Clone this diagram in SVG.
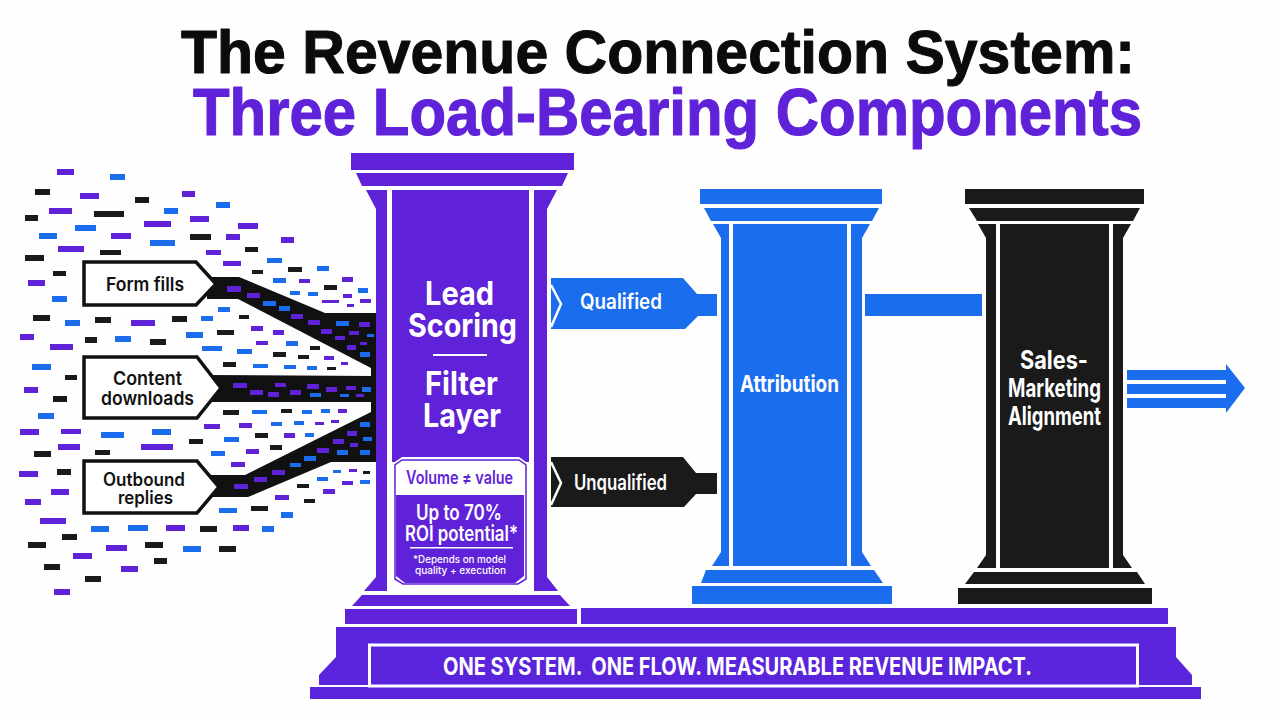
<svg xmlns="http://www.w3.org/2000/svg" width="1280" height="720" viewBox="0 0 1280 720">
<style>
text{font-family:Inter,"Liberation Sans",sans-serif;font-weight:700;fill:#fff}
.p{fill:#5f22d9}.b{fill:#1a6dec}.k{fill:#1a1a1a}
.w{fill:#fff}
.lab{fill:#111;font-weight:600}
.src{fill:#fff;stroke:#111;stroke-width:3.5}
.ch{fill:none;stroke:#fff;stroke-width:2.5}
.ttl{font-family:"Liberation Sans",Arial,sans-serif;stroke-width:1.1;stroke-linejoin:round}
</style>
<rect width="1280" height="720" fill="#fefefe"/>
<g id="title">
<text class="ttl" x="181" y="73" font-size="62" style="fill:#0b0b0b;stroke:#0b0b0b" textLength="954" lengthAdjust="spacingAndGlyphs">The Revenue Connection System:</text>
<text class="ttl" x="193" y="135" font-size="66" style="fill:#5f22d9;stroke:#5f22d9" textLength="949" lengthAdjust="spacingAndGlyphs">Three Load-Bearing Components</text>
</g>
<g id="particles">
<rect class="p" x="57" y="169" width="17" height="6"/><rect class="b" x="110" y="174" width="15" height="6"/><rect class="k" x="35" y="189" width="15" height="6"/><rect class="p" x="80" y="193" width="19" height="6"/><rect class="p" x="182" y="191" width="13" height="6"/><rect class="k" x="135" y="197" width="14" height="6"/><rect class="b" x="216" y="202" width="14" height="6"/><rect class="p" x="49" y="208" width="23" height="6"/><rect class="k" x="94" y="211" width="30" height="6"/><rect class="b" x="164" y="208" width="14" height="6"/><rect class="k" x="25" y="215" width="13" height="6"/><rect class="p" x="190" y="216" width="19" height="6"/><rect class="p" x="144" y="221" width="27" height="6"/><rect class="b" x="75" y="225" width="21" height="6"/><rect class="p" x="238" y="223" width="20" height="6"/><rect class="b" x="39" y="233" width="18" height="6"/><rect class="p" x="111" y="233" width="20" height="6"/><rect class="k" x="190" y="234" width="21" height="6"/><rect class="p" x="226" y="234" width="14" height="6"/><rect class="p" x="281" y="237" width="13" height="6"/><rect class="b" x="150" y="240" width="25" height="6"/><rect class="p" x="58" y="246" width="26" height="6"/><rect class="k" x="245" y="247" width="13" height="5"/><rect class="k" x="100" y="250" width="21" height="5"/><rect class="p" x="206" y="250" width="15" height="5"/><rect class="k" x="25" y="255" width="19" height="6"/><rect class="b" x="267" y="258" width="15" height="5"/><rect class="p" x="223" y="261" width="18" height="5"/><rect class="b" x="317" y="266" width="12" height="5"/><rect class="k" x="288" y="267" width="14" height="5"/><rect class="k" x="252" y="270" width="11" height="4"/><rect class="k" x="53" y="271" width="13" height="5"/><rect class="p" x="28" y="280" width="17" height="6"/><rect class="b" x="273" y="278" width="13" height="5"/><rect class="p" x="299" y="279" width="11" height="4"/><rect class="p" x="342" y="277" width="11" height="5"/><rect class="b" x="358" y="288" width="10" height="5"/><rect class="k" x="324" y="285" width="13" height="5"/><rect class="b" x="290" y="291" width="10" height="4"/><rect class="b" x="308" y="292" width="10" height="4"/><rect class="p" x="343" y="294" width="9" height="4"/><rect class="p" x="322" y="300" width="17" height="3"/><rect class="p" x="360" y="299" width="11" height="4"/><rect class="p" x="347" y="304" width="7" height="3"/><rect class="b" x="52" y="296" width="15" height="6"/><rect class="b" x="218" y="307" width="12" height="5"/><rect class="k" x="239" y="315" width="10" height="4"/><rect class="k" x="33" y="315" width="17" height="6"/><rect class="k" x="95" y="317" width="16" height="6"/><rect class="b" x="65" y="320" width="15" height="6"/><rect class="p" x="131" y="320" width="24" height="6"/><rect class="k" x="172" y="316" width="15" height="6"/><rect class="b" x="201" y="316" width="12" height="5"/><rect class="p" x="251" y="326" width="12" height="5"/><rect class="p" x="273" y="330" width="11" height="5"/><rect class="k" x="217" y="330" width="17" height="5"/><rect class="b" x="186" y="332" width="17" height="6"/><rect class="p" x="20" y="334" width="14" height="6"/><rect class="k" x="85" y="337" width="12" height="6"/><rect class="b" x="115" y="336" width="16" height="6"/><rect class="k" x="150" y="339" width="16" height="6"/><rect class="p" x="50" y="344" width="23" height="6"/><rect class="p" x="256" y="341" width="12" height="4"/><rect class="b" x="286" y="341" width="12" height="5"/><rect class="b" x="202" y="346" width="20" height="5"/><rect class="b" x="237" y="349" width="15" height="5"/><rect class="k" x="310" y="346" width="10" height="4"/><rect class="k" x="273" y="352" width="13" height="5"/><rect class="k" x="298" y="355" width="11" height="4"/><rect class="p" x="324" y="356" width="10" height="4"/><rect class="p" x="341" y="362" width="7" height="3"/><rect class="k" x="223" y="362" width="13" height="5"/><rect class="b" x="253" y="364" width="15" height="4"/><rect class="b" x="284" y="365" width="12" height="4"/><rect class="b" x="307" y="366" width="10" height="4"/><rect class="k" x="327" y="367" width="9" height="3"/><rect class="b" x="32" y="364" width="19" height="6"/>
<rect class="k" x="65" y="375" width="12" height="5"/><rect class="p" x="24" y="387" width="14" height="6"/><rect class="k" x="53" y="396" width="14" height="6"/><rect class="b" x="38" y="413" width="16" height="6"/><rect class="p" x="20" y="429" width="19" height="6"/><rect class="p" x="61" y="429" width="20" height="5"/><rect class="b" x="101" y="432" width="23" height="6"/><rect class="b" x="152" y="429" width="19" height="6"/><rect class="p" x="204" y="424" width="16" height="5"/><rect class="p" x="239" y="423" width="13" height="5"/><rect class="b" x="271" y="422" width="11" height="4"/><rect class="b" x="294" y="421" width="10" height="4"/><rect class="p" x="315" y="422" width="9" height="3"/><rect class="p" x="331" y="420" width="8" height="3"/><rect class="k" x="223" y="410" width="16" height="5"/><rect class="b" x="252" y="410" width="15" height="4"/><rect class="k" x="281" y="409" width="11" height="4"/><rect class="b" x="302" y="410" width="10" height="4"/><rect class="b" x="321" y="409" width="9" height="4"/><rect class="p" x="338" y="409" width="9" height="4"/><rect class="k" x="189" y="439" width="14" height="5"/><rect class="b" x="224" y="437" width="15" height="5"/><rect class="k" x="255" y="433" width="13" height="5"/><rect class="p" x="284" y="433" width="11" height="5"/><rect class="b" x="305" y="433" width="9" height="4"/><rect class="p" x="58" y="444" width="22" height="6"/><rect class="k" x="95" y="450" width="15" height="5"/><rect class="p" x="141" y="444" width="32" height="6"/><rect class="b" x="211" y="451" width="14" height="5"/><rect class="p" x="246" y="449" width="13" height="5"/><rect class="k" x="270" y="445" width="12" height="5"/><rect class="k" x="34" y="451" width="17" height="6"/><rect class="p" x="231" y="462" width="14" height="5"/><rect class="p" x="19" y="471" width="19" height="6"/><rect class="k" x="57" y="469" width="14" height="6"/><rect class="p" x="51" y="489" width="18" height="6"/><rect class="p" x="25" y="499" width="16" height="6"/><rect class="p" x="40" y="518" width="26" height="6"/><rect class="b" x="219" y="508" width="18" height="5"/><rect class="k" x="251" y="506" width="17" height="5"/><rect class="b" x="281" y="512" width="12" height="6"/><rect class="p" x="275" y="495" width="14" height="5"/><rect class="k" x="304" y="499" width="11" height="4"/><rect class="k" x="297" y="484" width="12" height="4"/><rect class="p" x="323" y="489" width="12" height="5"/><rect class="b" x="317" y="477" width="11" height="4"/><rect class="b" x="333" y="470" width="8" height="3"/><rect class="p" x="349" y="469" width="8" height="3"/><rect class="k" x="363" y="471" width="7" height="3"/><rect class="p" x="342" y="481" width="11" height="4"/><rect class="b" x="360" y="480" width="10" height="4"/><rect class="b" x="91" y="526" width="18" height="6"/><rect class="b" x="128" y="525" width="20" height="6"/><rect class="p" x="166" y="525" width="19" height="6"/><rect class="k" x="200" y="526" width="17" height="6"/><rect class="p" x="233" y="525" width="16" height="6"/><rect class="b" x="262" y="526" width="12" height="6"/><rect class="k" x="62" y="534" width="15" height="6"/><rect class="k" x="28" y="542" width="18" height="6"/><rect class="p" x="106" y="545" width="21" height="6"/><rect class="k" x="145" y="542" width="18" height="6"/><rect class="b" x="183" y="546" width="18" height="6"/><rect class="k" x="219" y="546" width="17" height="6"/><rect class="p" x="73" y="553" width="19" height="6"/><rect class="k" x="44" y="564" width="16" height="6"/><rect class="k" x="154" y="558" width="13" height="6"/><rect class="p" x="121" y="566" width="17" height="6"/><rect class="k" x="85" y="576" width="16" height="6"/><rect class="p" x="54" y="589" width="16" height="6"/>
</g>
<g id="connectors">
<polygon id="funnel" fill="#111" points="207,277 239,277 325,313 376,313 376,462 331,462 248,497 207,497 207,475 245,475 371,412 371,402 207,402 207,375 371,376 371,368 238,299 207,299"/>
<g id="funnel-particles">
<rect class="p" x="227" y="286" width="14" height="6"/><rect class="p" x="247" y="293" width="13" height="5"/><rect class="b" x="263" y="301" width="13" height="5"/><rect class="b" x="279" y="306" width="11" height="5"/><rect class="p" x="291" y="314" width="12" height="5"/><rect class="p" x="308" y="320" width="12" height="5"/><rect class="b" x="336" y="321" width="13" height="5"/><rect class="p" x="359" y="322" width="11" height="5"/><rect class="p" x="321" y="329" width="11" height="5"/><rect class="p" x="349" y="331" width="10" height="4"/><rect class="b" x="367" y="334" width="7" height="3"/><rect class="p" x="335" y="336" width="10" height="4"/><rect class="p" x="360" y="342" width="7" height="3"/><rect class="p" x="347" y="345" width="9" height="5"/><rect class="b" x="360" y="352" width="10" height="5"/>
<rect class="p" x="233" y="383" width="14" height="5"/><rect class="p" x="250" y="390" width="13" height="5"/><rect class="p" x="268" y="392" width="11" height="5"/><rect class="p" x="275" y="383" width="11" height="4"/><rect class="p" x="290" y="390" width="11" height="5"/><rect class="p" x="307" y="384" width="12" height="5"/><rect class="b" x="310" y="393" width="11" height="4"/><rect class="p" x="326" y="387" width="11" height="5"/><rect class="p" x="346" y="386" width="10" height="4"/><rect class="b" x="362" y="387" width="9" height="5"/><rect class="b" x="340" y="394" width="9" height="3"/><rect class="p" x="356" y="394" width="8" height="3"/>
<rect class="p" x="234" y="484" width="14" height="5"/><rect class="p" x="254" y="477" width="13" height="5"/><rect class="p" x="272" y="470" width="13" height="5"/><rect class="b" x="290" y="463" width="11" height="4"/><rect class="b" x="304" y="456" width="12" height="5"/><rect class="p" x="317" y="448" width="12" height="5"/><rect class="b" x="337" y="450" width="11" height="5"/><rect class="b" x="360" y="450" width="10" height="5"/><rect class="p" x="333" y="439" width="11" height="5"/><rect class="p" x="350" y="443" width="8" height="4"/><rect class="b" x="363" y="437" width="9" height="4"/><rect class="p" x="347" y="431" width="10" height="5"/><rect class="b" x="360" y="422" width="10" height="5"/>
</g>
<g id="qualified">
<polygon class="b" points="551,278 683,278 697,294 717,294 717,316 698,316 685,329 551,329"/>
<polyline class="ch" points="551,285 561,304 551,327"/>
<text x="580" y="309" font-size="21" style="font-weight:600" textLength="82" lengthAdjust="spacingAndGlyphs">Qualified</text>
</g>
<g id="unqualified">
<polygon class="k" points="551,457 683,457 696,473 717,473 717,494 696,494 684,507 551,507"/>
<polyline class="ch" points="551,462 561,483 551,505"/>
<text x="574" y="490" font-size="21" style="font-weight:600" textLength="93" lengthAdjust="spacingAndGlyphs">Unqualified</text>
</g>
<rect id="attribution-link" class="b" x="865" y="294" width="117" height="22"/>
<g id="output-arrow" class="b">
<rect x="1127" y="370" width="100" height="10"/><rect x="1127" y="384" width="100" height="10"/><rect x="1127" y="398" width="100" height="10"/>
<polygon points="1226,364 1245,388 1226,413"/>
</g>
</g>
<g id="source-form">
<polygon class="src" points="84,262 196,262 216,284 196,305 84,305"/>
<text class="lab" x="106" y="291" font-size="18.500" textLength="78" lengthAdjust="spacingAndGlyphs">Form fills</text>
</g>
<g id="source-content">
<polygon class="src" points="84,357 197,357 221,388 197,418 84,418"/>
<text class="lab" x="113" y="385" font-size="18.500" textLength="69" lengthAdjust="spacingAndGlyphs">Content</text>
<text class="lab" x="101" y="405" font-size="18.500" textLength="93" lengthAdjust="spacingAndGlyphs">downloads</text>
</g>
<g id="source-outbound">
<polygon class="src" points="84,461 197,461 219,487 197,513 84,513"/>
<text class="lab" x="103" y="486" font-size="18" textLength="82" lengthAdjust="spacingAndGlyphs">Outbound</text>
<text class="lab" x="118" y="504" font-size="18" textLength="55" lengthAdjust="spacingAndGlyphs">replies</text>
</g>
<g id="pillar-lead-scoring" class="p">
<rect x="351" y="153" width="223" height="17"/>
<polygon points="356,173 568,173 562,186 362,186"/>
<polygon points="366,190 387,190 387,591 364,591 376,577 376,209"/>
<polygon points="534,190 557,190 547,209 547,577 558,591 534,591"/>
<rect x="392" y="190" width="137" height="272"/>
<polygon points="362,595 560,595 570,606 352,606"/>
<rect x="345" y="609" width="232" height="15"/>
<polygon class="w" points="402,457 519,457 529,464 529,580 519,587 402,587 392,580 392,464"/>
<polygon points="402,460 519,460 526,465 526,579 518,584 403,584 395,579 395,465" fill="none" stroke="#5f22d9" stroke-width="1.5"/>
<polygon points="396,495 524,495 524,576 515,583 405,583 396,576"/>
<rect class="w" x="410" y="547" width="103" height="1.5"/>
<rect class="w" x="433" y="354" width="54" height="2"/>
<text x="425" y="305" font-size="33" textLength="69" lengthAdjust="spacingAndGlyphs">Lead</text>
<text x="408" y="337" font-size="33" textLength="109" lengthAdjust="spacingAndGlyphs">Scoring</text>
<text x="425" y="395" font-size="33" textLength="73" lengthAdjust="spacingAndGlyphs">Filter</text>
<text x="423" y="427" font-size="33" textLength="78" lengthAdjust="spacingAndGlyphs">Layer</text>
<text x="406" y="484" font-size="18" style="fill:#5f22d9;font-weight:600" textLength="107" lengthAdjust="spacingAndGlyphs">Volume ≠ value</text>
<text x="416" y="520" font-size="21" style="font-weight:600" textLength="86" lengthAdjust="spacingAndGlyphs">Up to 70%</text>
<text x="405" y="541" font-size="21" style="font-weight:600" textLength="113" lengthAdjust="spacingAndGlyphs">ROI potential*</text>
<text x="413" y="563" font-size="10" style="font-weight:500" textLength="93" lengthAdjust="spacingAndGlyphs">*Depends on model</text>
<text x="415" y="574" font-size="10" style="font-weight:500" textLength="91" lengthAdjust="spacingAndGlyphs">quality + execution</text>
</g>
<g id="pillar-attribution" class="b">
<rect x="700" y="189" width="182" height="15"/>
<polygon points="704,208 879,208 872,221 711,221"/>
<polygon points="713,224 729,224 729,566 712,566 721,552 721,238"/>
<polygon points="851,224 870,224 862,238 862,552 871,566 851,566"/>
<rect x="733" y="224" width="114" height="342"/>
<polygon points="706,570 874,570 883,583 701,583"/>
<rect x="692" y="586" width="200" height="18"/>
<text x="740" y="392" font-size="23" textLength="99" lengthAdjust="spacingAndGlyphs">Attribution</text>
</g>
<g id="pillar-alignment" class="k">
<rect x="965" y="189" width="179" height="15"/>
<polygon points="969,208 1140,208 1133,221 977,221"/>
<polygon points="978,224 996,224 996,568 977,568 986,555 986,238"/>
<polygon points="1113,224 1131,224 1123,238 1123,555 1132,568 1113,568"/>
<rect x="1000" y="224" width="109" height="344"/>
<polygon points="974,572 1137,572 1145,584 965,584"/>
<rect x="958" y="588" width="194" height="16"/>
<text x="1020" y="369" font-size="25" textLength="68" lengthAdjust="spacingAndGlyphs">Sales-</text>
<text x="1008" y="397" font-size="25" textLength="93" lengthAdjust="spacingAndGlyphs">Marketing</text>
<text x="1008" y="425" font-size="25" textLength="93" lengthAdjust="spacingAndGlyphs">Alignment</text>
</g>
<g id="base" fill="#5a24dc">
<rect x="581" y="608" width="587" height="16"/>
<polygon points="336,627 1176,627 1176,657 1192,675 1192,685 319,685 319,675 336,657"/>
<rect x="310" y="687" width="891" height="12"/>
<rect x="369.500" y="645" width="768" height="41" fill="none" stroke="#fff" stroke-width="3"/>
<text x="443" y="675" font-size="24" textLength="589" lengthAdjust="spacingAndGlyphs" xml:space="preserve">ONE SYSTEM.  ONE FLOW. MEASURABLE REVENUE IMPACT.</text>
</g>
</svg>
